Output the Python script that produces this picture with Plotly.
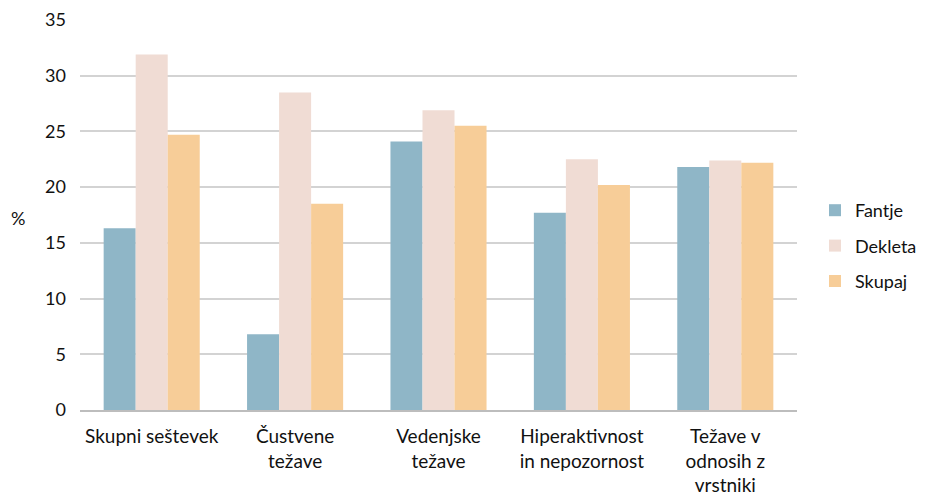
import plotly.graph_objects as go

categories = ["Skupni seštevek", "Čustvene<br>težave", "Vedenjske<br>težave",
              "Hiperaktivnost<br>in nepozornost", "Težave v<br>odnosih z<br>vrstniki"]
fantje = [16.3, 6.8, 24.1, 17.7, 21.8]
dekleta = [31.9, 28.5, 26.9, 22.5, 22.4]
skupaj = [24.7, 18.5, 25.5, 20.2, 22.2]
series_names = ["Fantje", "Dekleta", "Skupaj"]
colors = ["#8fb6c7", "#f0dcd4", "#f7cd98"]
tickvals = [0, 5, 10, 15, 20, 25, 30, 35]

FONT = "Lato, Open Sans, sans-serif"

W, H = 918, 489
L, R, T, B = 72, 129, 12, 87
PW, PH = W - L - R, H - T - B

fig = go.Figure()
for name, vals, col in zip(series_names, [fantje, dekleta, skupaj], colors):
    fig.add_trace(go.Bar(x=categories, y=vals, name=name, legendgroup=name,
                         marker=dict(color=col, line=dict(width=0))))

fig.update_layout(
    width=W, height=H,
    margin=dict(l=L, r=R, t=T, b=B, autoexpand=False),
    paper_bgcolor="white", plot_bgcolor="white",
    barmode="group", bargap=0.33, bargroupgap=0.0,
    font=dict(family=FONT, size=19, color="#111"),
    legend=dict(x=1 + 18 / PW, y=(402 - 238) / PH, xanchor="left", yanchor="middle",
                font=dict(size=18), itemwidth=30, tracegroupgap=9),
    xaxis=dict(showgrid=False, showline=True, linecolor="#bdbdbd", linewidth=2,
               ticks="", tickfont=dict(size=19), ticklabelstandoff=8),
    yaxis=dict(range=[0, 35], tickvals=tickvals, showgrid=True,
               gridcolor="#d3d3d3", gridwidth=1.5, zeroline=False,
               showline=False, ticks="", tickfont=dict(size=18),
               ticklabelstandoff=13),
    annotations=[dict(text="%", x=(10 - L) / PW, y=(402 - 210) / PH,
                      xref="paper", yref="paper", xanchor="center", yanchor="middle",
                      showarrow=False, font=dict(size=18))],
)

fig.write_html("out.html")
